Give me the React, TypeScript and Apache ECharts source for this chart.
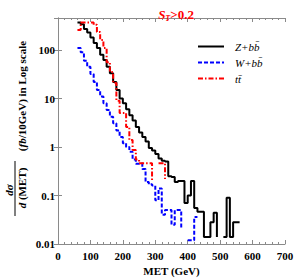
import React, { useEffect, useRef } from "react";
import * as echarts from "echarts";

// Histogram: values at 10 GeV bin edges, starting at 60 GeV. null = empty bins (line break)
const binStart = 60;
const binWidth = 10;
const seriesNames = ["Z+b\u0062\u0304", "W+b\u0062\u0304", "t\u0074\u0304"];
const zbbValues: (number | null)[] = [
  370, 340, 270, 230, 180, 140, 110, 80, 62, 45, 33, 22, 15, 10, 8, 6, 4.5, 3.5, 2.6, 2.0,
  1.6, 1.3, 0.95, 0.85, 0.72, 0.58, 0.52, 0.5, 0.25, 0.24, 0.19, 0.2, 0.2, 0.07, 0.1, 0.2,
  0.055, 0.046, 0.046, 0.014, 0.014, 0.028, 0.044, 0.014, null, 0.014, 0.09, 0.014, 0.028,
  0.028, 0.028,
];
const wbbValues: (number | null)[] = [
  110, 90, 60, 45, 32, 22, 15, 11, 8, 5.8, 4.2, 3.1, 2.2, 1.6, 1.2, 1.0, 0.8, 0.55, 0.45,
  0.46, 0.35, 0.19, 0.17, 0.16, 0.08, 0.14, 0.04, 0.05, 0.05, 0.025, 0.05, 0.05, 0.022, null,
  0.012, 0.012, 0.036, 0.036,
];
const ttValues: (number | null)[] = [
  260, 370, 370, 370, 370, 330, 235, 160, 110, 56, 35, 21, 9, 5, 5, 2.6, 1.4, 0.87, 0.55,
  0.46, 0.46, 0.46, 0.46, 0.2, null, 0.46, 0.46, 0.22,
];
const xMin = 0;
const xMax = 700;
const xInterval = 100;
const yMin = 0.01;
const yMax = 457;

function toStepPoints(values: (number | null)[]) {
  const pts: [number, number | null][] = [];
  let lastX = binStart;
  values.forEach((v, i) => {
    const x = binStart + binWidth * i;
    if (v === null) pts.push([lastX, null]);
    else {
      pts.push([x, v]);
      lastX = x;
    }
  });
  return pts;
}

const FONT = "'Liberation Serif', 'Times New Roman', serif";
const AXIS_COLOR = "#8a8a8a";

function yLabel(v: number) {
  const l = Math.log10(v);
  if (Math.abs(l - Math.round(l)) > 1e-6) return "";
  return String(+v.toPrecision(3));
}

export default function App() {
  const ref = useRef<HTMLDivElement>(null);
  useEffect(() => {
    document.body.style.margin = "0";
    if (!ref.current) return;
    const chart = echarts.init(ref.current, null, { renderer: "svg" });
    const xCommon = {
      type: "value",
      min: xMin,
      max: xMax,
      interval: xInterval,
      axisLine: { show: true, lineStyle: { color: AXIS_COLOR, width: 1 } },
      axisTick: { show: true, inside: true, length: 4, lineStyle: { color: AXIS_COLOR } },
      minorTick: { show: true, splitNumber: 5, length: 2, lineStyle: { color: AXIS_COLOR } },
      splitLine: { show: false },
      minorSplitLine: { show: false },
    };
    const yCommon = {
      type: "log",
      logBase: 10,
      min: yMin,
      max: yMax,
      axisLine: { show: true, lineStyle: { color: AXIS_COLOR, width: 1 } },
      axisTick: { show: true, inside: true, length: 4, lineStyle: { color: AXIS_COLOR } },
      splitLine: { show: false },
    };
    const option = {
      animation: false,
      title: {
        text: "{s|S}{t|T}{r|>0.2}",
        left: 171,
        top: 1,
        textAlign: "center",
        textStyle: {
          rich: {
            s: { fontFamily: FONT, fontSize: 13, fontStyle: "italic", fontWeight: "bold", color: "#f00", lineHeight: 16 },
            t: { fontFamily: FONT, fontSize: 8, fontStyle: "italic", fontWeight: "bold", color: "#f00", verticalAlign: "bottom", lineHeight: 12 },
            r: { fontFamily: FONT, fontSize: 13, fontWeight: "bold", color: "#f00", lineHeight: 16 },
          },
        },
      },
      legend: {
        show: true,
        orient: "vertical",
        left: 192,
        top: 36,
        itemWidth: 26,
        itemHeight: 10,
        itemGap: 5,
        data: seriesNames,
        itemStyle: { opacity: 0 },
        textStyle: { fontFamily: FONT, fontSize: 11, fontStyle: "italic", color: "#000", lineHeight: 10, padding: [0, 0, 0, 6] },
      },
      grid: { left: 58, right: 9, top: 18, bottom: 35, containLabel: false, outerBoundsMode: "none" },
      xAxis: [
        {
          ...xCommon,
          position: "bottom",
          name: "MET (GeV)",
          nameLocation: "middle",
          nameGap: 20,
          nameTextStyle: { fontFamily: FONT, fontSize: 11, fontWeight: "bold", color: "#000" },
          axisLabel: { show: true, fontFamily: FONT, fontSize: 11, fontWeight: "bold", color: "#000", margin: 6 },
        },
        { ...xCommon, position: "top", axisLabel: { show: false } },
      ],
      yAxis: [
        {
          ...yCommon,
          position: "left",
          axisLabel: { show: true, fontFamily: FONT, fontSize: 11, fontWeight: "bold", color: "#000", margin: 3, formatter: yLabel, showMaxLabel: false },
        },
        { ...yCommon, position: "right", axisLabel: { show: false } },
      ],
      series: [
        { name: seriesNames[0], values: zbbValues, color: "#000", type: "solid", width: 2 },
        { name: seriesNames[1], values: wbbValues, color: "#0000ff", type: [4, 2], width: 2 },
        { name: seriesNames[2], values: ttValues, color: "#ff0000", type: [5, 2, 1.5, 2], width: 2 },
      ].map((s) => ({
        name: s.name,
        type: "line",
        step: "end",
        xAxisIndex: 0,
        yAxisIndex: 0,
        data: toStepPoints(s.values),
        symbol: "none",
        showSymbol: false,
        connectNulls: false,
        clip: true,
        color: s.color,
        lineStyle: { color: s.color, width: s.width, type: s.type },
      })),
      graphic: [
        {
          type: "text",
          x: 9,
          y: 190,
          rotation: Math.PI / 2,
          style: { text: "d\u03c3", font: `italic bold 11px ${FONT}`, fill: "#000", textAlign: "center", textVerticalAlign: "middle" },
        },
        {
          type: "line",
          shape: { x1: 15, y1: 161, x2: 15, y2: 216 },
          style: { stroke: "#000", lineWidth: 1 },
        },
        {
          type: "text",
          x: 22,
          y: 188,
          rotation: Math.PI / 2,
          style: {
            text: "{i|d}{n| (MET)}",
            textAlign: "center",
            textVerticalAlign: "middle",
            rich: {
              i: { fontFamily: FONT, fontSize: 11, fontStyle: "italic", fontWeight: "bold", fill: "#000" },
              n: { fontFamily: FONT, fontSize: 11, fontWeight: "bold", fill: "#000" },
            },
          },
        },
        {
          type: "text",
          x: 22,
          y: 96,
          rotation: Math.PI / 2,
          style: {
            text: "{n|(}{i|fb}{n|/10GeV) in Log scale}",
            textAlign: "center",
            textVerticalAlign: "middle",
            rich: {
              i: { fontFamily: FONT, fontSize: 11, fontStyle: "italic", fontWeight: "bold", fill: "#000" },
              n: { fontFamily: FONT, fontSize: 11, fontWeight: "bold", fill: "#000" },
            },
          },
        },
      ],
    };
    chart.setOption(option as any);
    return () => chart.dispose();
  }, []);
  return <div ref={ref} style={{ width: 294, height: 279 }} />;
}
